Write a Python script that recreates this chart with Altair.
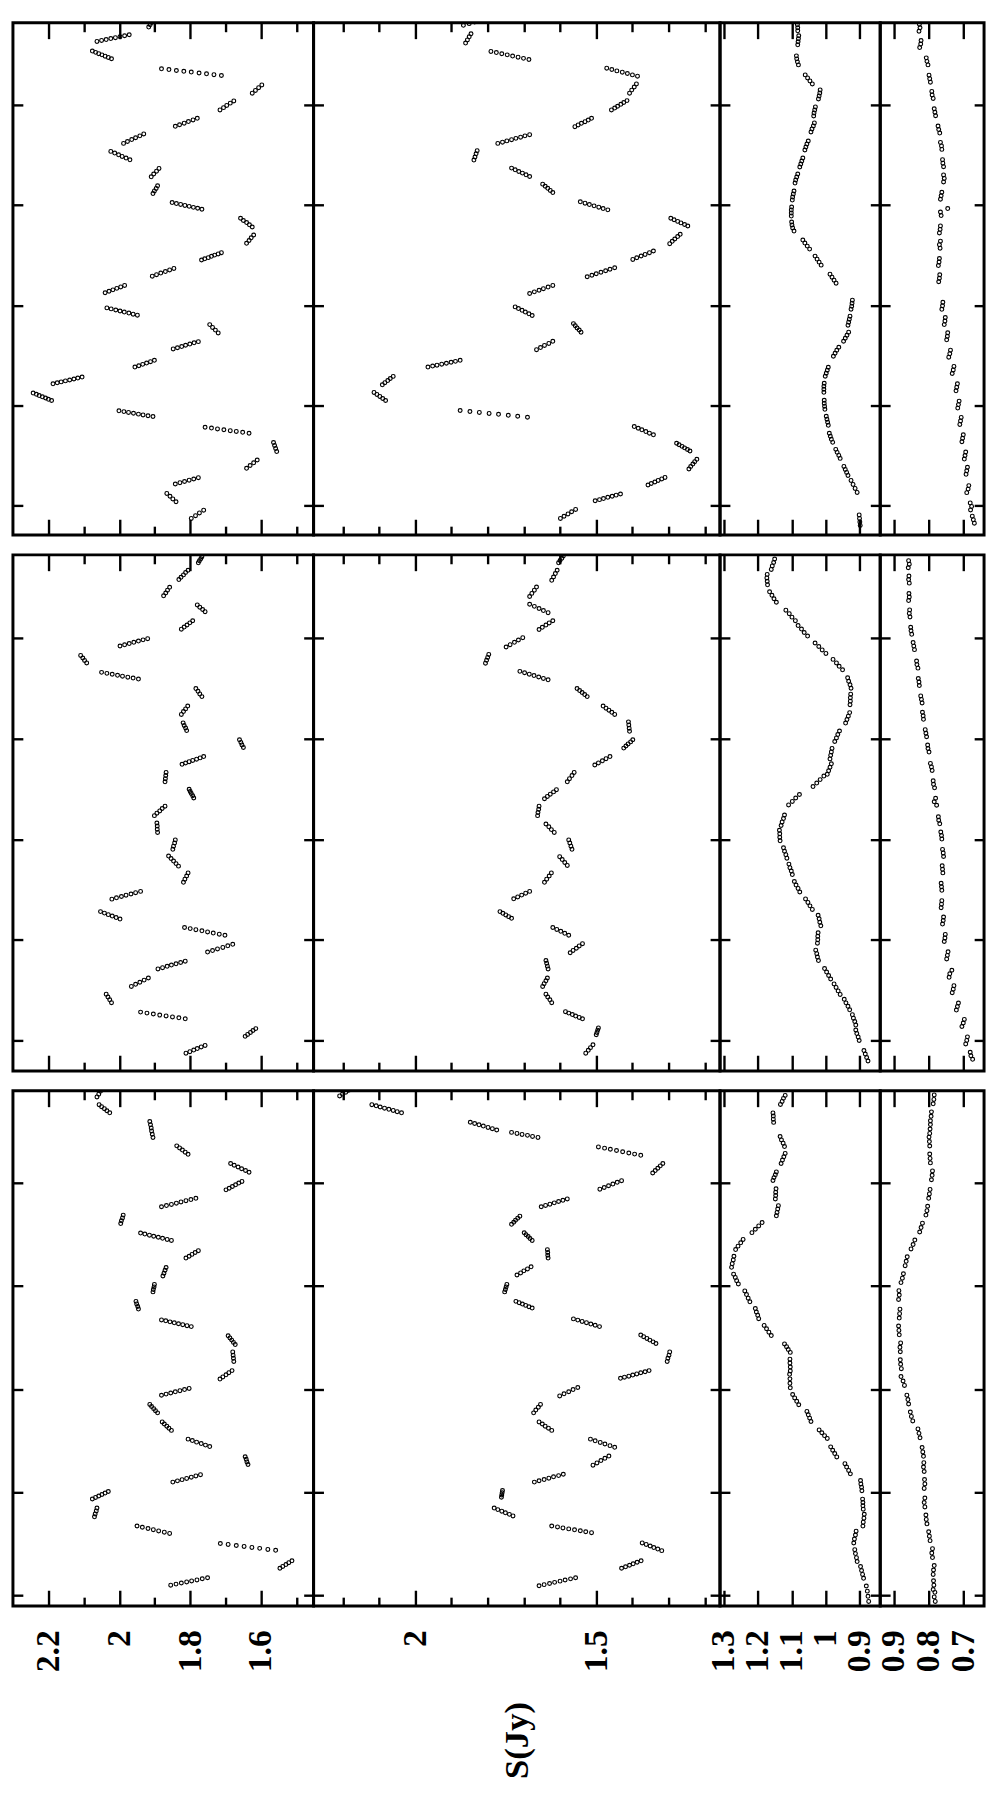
import altair as alt
import pandas as pd

# ---------------- data: each cluster = (times, fluxes) ----------------
# time in days from the first tick of each segment, flux S in Jy

TOP_1 = [
    ([-0.130, -0.102, -0.075, -0.047], [1.797, 1.785, 1.774, 1.762]),
    ([0.037, 0.065, 0.092, 0.120], [1.840, 1.849, 1.857, 1.866]),
    ([0.214, 0.227, 0.239, 0.252, 0.264, 0.277], [1.842, 1.829, 1.816, 1.803, 1.790, 1.777]),
    ([0.371, 0.399, 0.426, 0.454], [1.641, 1.631, 1.621, 1.611]),
    ([0.538, 0.568, 0.598, 0.628], [1.556, 1.559, 1.562, 1.565]),
    ([0.721, 0.730, 0.739, 0.747, 0.756, 0.764, 0.773, 0.781], [1.634, 1.652, 1.670, 1.687, 1.705, 1.723, 1.740, 1.758]),
    ([0.888, 0.896, 0.904, 0.912, 0.921, 0.929, 0.937, 0.945], [1.905, 1.919, 1.933, 1.946, 1.960, 1.974, 1.987, 2.001]),
    ([1.048, 1.060, 1.073, 1.085, 1.097, 1.110, 1.122], [2.191, 2.200, 2.208, 2.217, 2.226, 2.234, 2.243]),
    ([1.215, 1.225, 1.234, 1.244, 1.253, 1.263, 1.272, 1.282], [2.187, 2.175, 2.164, 2.152, 2.140, 2.128, 2.117, 2.105]),
    ([1.382, 1.395, 1.409, 1.422, 1.436, 1.449], [1.956, 1.945, 1.934, 1.923, 1.912, 1.901]),
    ([1.563, 1.575, 1.587, 1.600, 1.612, 1.624, 1.636], [1.848, 1.836, 1.824, 1.813, 1.801, 1.789, 1.777]),
    ([1.723, 1.751, 1.778, 1.806], [1.721, 1.729, 1.737, 1.745]),
    ([1.900, 1.910, 1.921, 1.931, 1.942, 1.952, 1.963, 1.973], [1.949, 1.961, 1.973, 1.986, 1.998, 2.010, 2.023, 2.035]),
    ([2.124, 2.139, 2.153, 2.168, 2.182, 2.197], [2.040, 2.029, 2.018, 2.007, 1.996, 1.985]),
    ([2.290, 2.305, 2.321, 2.336, 2.352, 2.367], [1.907, 1.895, 1.883, 1.870, 1.858, 1.846]),
    ([2.451, 2.463, 2.475, 2.488, 2.500, 2.512, 2.524], [1.768, 1.759, 1.749, 1.740, 1.731, 1.721, 1.712]),
    ([2.618, 2.646, 2.673, 2.701], [1.641, 1.634, 1.628, 1.621]),
    ([2.781, 2.803, 2.825, 2.846, 2.868], [1.625, 1.633, 1.641, 1.650, 1.658]),
    ([2.958, 2.968, 2.977, 2.987, 2.996, 3.006, 3.015, 3.025], [1.767, 1.779, 1.791, 1.803, 1.815, 1.827, 1.839, 1.851]),
    ([3.115, 3.141, 3.166, 3.192], [1.905, 1.901, 1.896, 1.892]),
    ([3.282, 3.310, 3.338, 3.366], [1.910, 1.903, 1.895, 1.888]),
    ([3.452, 3.469, 3.486, 3.502, 3.519, 3.536], [1.970, 1.981, 1.992, 2.002, 2.013, 2.024]),
    ([3.616, 3.635, 3.654, 3.672, 3.691, 3.710], [1.988, 1.977, 1.965, 1.954, 1.942, 1.931]),
    ([3.786, 3.802, 3.818, 3.834, 3.850, 3.866], [1.842, 1.830, 1.817, 1.805, 1.792, 1.780]),
    ([3.950, 3.973, 3.995, 4.018, 4.040], [1.716, 1.706, 1.697, 1.687, 1.677]),
    ([4.117, 4.145, 4.172, 4.200], [1.625, 1.616, 1.607, 1.598]),
    ([4.294, 4.302, 4.311, 4.319, 4.328, 4.336, 4.344, 4.353, 4.361], [1.712, 1.733, 1.754, 1.775, 1.797, 1.818, 1.839, 1.860, 1.881]),
    ([4.461, 4.474, 4.487, 4.500, 4.512, 4.525, 4.538], [2.022, 2.031, 2.040, 2.049, 2.058, 2.067, 2.076]),
    ([4.634, 4.644, 4.653, 4.663, 4.672, 4.682, 4.691, 4.701], [2.063, 2.050, 2.037, 2.024, 2.011, 1.998, 1.985, 1.972]),
    ([4.778, 4.800, 4.823, 4.845], [1.917, 1.913, 1.909, 1.905]),
]

TOP_2 = [
    ([-0.130, -0.108, -0.085, -0.063, -0.040], [1.599, 1.589, 1.578, 1.568, 1.557]),
    ([0.047, 0.058, 0.069, 0.081, 0.092, 0.103, 0.114], [1.503, 1.491, 1.480, 1.468, 1.456, 1.445, 1.433]),
    ([0.204, 0.219, 0.234, 0.250, 0.265, 0.280], [1.357, 1.348, 1.338, 1.329, 1.319, 1.310]),
    ([0.364, 0.388, 0.413, 0.437, 0.461], [1.244, 1.239, 1.233, 1.228, 1.222]),
    ([0.544, 0.559, 0.575, 0.590, 0.606, 0.621], [1.241, 1.248, 1.256, 1.263, 1.271, 1.278]),
    ([0.705, 0.722, 0.738, 0.755, 0.771, 0.788], [1.342, 1.353, 1.363, 1.374, 1.384, 1.395]),
    ([0.881, 0.891, 0.900, 0.910, 0.919, 0.929, 0.938, 0.948], [1.690, 1.717, 1.743, 1.770, 1.796, 1.823, 1.849, 1.876]),
    ([1.048, 1.068, 1.089, 1.109, 1.129], [2.082, 2.090, 2.098, 2.106, 2.114]),
    ([1.205, 1.226, 1.247, 1.268, 1.289], [2.091, 2.084, 2.076, 2.069, 2.061]),
    ([1.382, 1.392, 1.401, 1.411, 1.420, 1.430, 1.439, 1.449], [1.965, 1.952, 1.940, 1.927, 1.914, 1.901, 1.889, 1.876]),
    ([1.556, 1.577, 1.598, 1.618, 1.639], [1.665, 1.654, 1.643, 1.631, 1.620]),
    ([1.730, 1.752, 1.773, 1.795, 1.816], [1.542, 1.547, 1.553, 1.558, 1.563]),
    ([1.897, 1.914, 1.931, 1.949, 1.966, 1.983], [1.677, 1.686, 1.696, 1.705, 1.715, 1.724]),
    ([2.117, 2.133, 2.149, 2.165, 2.181, 2.197], [1.684, 1.671, 1.658, 1.646, 1.633, 1.620]),
    ([2.284, 2.299, 2.314, 2.329, 2.344, 2.359, 2.374], [1.525, 1.512, 1.500, 1.487, 1.474, 1.462, 1.449]),
    ([2.457, 2.474, 2.491, 2.507, 2.524, 2.541], [1.399, 1.388, 1.376, 1.365, 1.353, 1.342]),
    ([2.614, 2.638, 2.661, 2.685, 2.708], [1.297, 1.290, 1.283, 1.275, 1.268]),
    ([2.791, 2.806, 2.822, 2.837, 2.853, 2.868], [1.247, 1.256, 1.266, 1.275, 1.285, 1.294]),
    ([2.952, 2.965, 2.979, 2.992, 3.005, 3.019, 3.032], [1.468, 1.481, 1.493, 1.506, 1.519, 1.531, 1.544]),
    ([3.125, 3.146, 3.167, 3.188, 3.209], [1.620, 1.627, 1.634, 1.641, 1.648]),
    ([3.285, 3.302, 3.319, 3.335, 3.352, 3.369], [1.684, 1.694, 1.704, 1.714, 1.724, 1.734]),
    ([3.449, 3.480, 3.512, 3.543], [1.838, 1.835, 1.832, 1.829]),
    ([3.616, 3.628, 3.641, 3.653, 3.666, 3.678, 3.691, 3.703], [1.772, 1.759, 1.747, 1.734, 1.722, 1.709, 1.697, 1.684]),
    ([3.783, 3.800, 3.816, 3.833, 3.849, 3.866], [1.559, 1.550, 1.541, 1.531, 1.522, 1.513]),
    ([3.950, 3.969, 3.987, 4.006, 4.024, 4.043], [1.458, 1.449, 1.441, 1.432, 1.424, 1.415]),
    ([4.117, 4.148, 4.179, 4.210], [1.408, 1.402, 1.395, 1.389]),
    ([4.287, 4.300, 4.314, 4.327, 4.340, 4.354, 4.367], [1.386, 1.400, 1.414, 1.428, 1.443, 1.457, 1.471]),
    ([4.454, 4.465, 4.477, 4.488, 4.500, 4.511, 4.523, 4.534], [1.686, 1.701, 1.716, 1.731, 1.746, 1.761, 1.776, 1.791]),
    ([4.618, 4.649, 4.680, 4.711], [1.861, 1.856, 1.851, 1.846]),
    ([4.795, 4.812, 4.828, 4.845], [1.867, 1.851, 1.836, 1.820]),
]

TOP_3 = [
    ([-0.200, -0.165, -0.130, -0.095], [0.899, 0.900, 0.901, 0.902]),
    ([0.13, 0.17, 0.21, 0.25], [0.908, 0.914, 0.920, 0.926]),
    ([0.30, 0.33, 0.36, 0.39], [0.935, 0.939, 0.943, 0.947]),
    ([0.47, 0.50, 0.53, 0.56], [0.958, 0.962, 0.967, 0.971]),
    ([0.63, 0.66, 0.69, 0.72], [0.980, 0.984, 0.987, 0.990]),
    ([0.80, 0.83, 0.86, 0.89], [0.993, 0.995, 0.997, 0.999]),
    ([0.96, 0.99, 1.02, 1.05], [1.003, 1.004, 1.005, 1.005]),
    ([1.13, 1.16, 1.19, 1.22], [1.006, 1.006, 1.006, 1.005]),
    ([1.29, 1.32, 1.35, 1.38], [1.002, 0.999, 0.996, 0.993]),
    ([1.49, 1.52, 1.55, 1.58], [0.978, 0.973, 0.968, 0.962]),
    ([1.64, 1.67, 1.70, 1.73], [0.948, 0.943, 0.938, 0.933]),
    ([1.80, 1.83, 1.86, 1.89], [0.935, 0.933, 0.931, 0.929]),
    ([1.96, 1.99, 2.02, 2.05], [0.926, 0.924, 0.923, 0.922]),
    ([2.22, 2.25, 2.28, 2.31], [0.970, 0.976, 0.982, 0.988]),
    ([2.40, 2.43, 2.46, 2.49], [1.014, 1.020, 1.026, 1.032]),
    ([2.56, 2.59, 2.62, 2.65], [1.048, 1.055, 1.062, 1.068]),
    ([2.74, 2.77, 2.80, 2.83], [1.094, 1.098, 1.100, 1.101]),
    ([2.89, 2.92, 2.95, 2.98], [1.102, 1.102, 1.102, 1.101]),
    ([3.05, 3.08, 3.11, 3.14], [1.099, 1.098, 1.096, 1.094]),
    ([3.22, 3.25, 3.28, 3.31], [1.091, 1.089, 1.086, 1.083]),
    ([3.38, 3.41, 3.44, 3.47], [1.077, 1.074, 1.071, 1.068]),
    ([3.55, 3.58, 3.61, 3.64], [1.062, 1.059, 1.056, 1.052]),
    ([3.73, 3.76, 3.79, 3.82], [1.044, 1.041, 1.037, 1.034]),
    ([3.89, 3.92, 3.95, 3.98], [1.036, 1.035, 1.033, 1.031]),
    ([4.06, 4.09, 4.12, 4.15], [1.022, 1.020, 1.018, 1.017]),
    ([4.21, 4.24, 4.27, 4.30], [1.040, 1.047, 1.054, 1.061]),
    ([4.40, 4.43, 4.46, 4.49], [1.081, 1.084, 1.086, 1.087]),
    ([4.60, 4.63, 4.66, 4.69], [1.083, 1.082, 1.081, 1.080]),
    ([4.74, 4.77, 4.80, 4.83], [1.083, 1.083, 1.084, 1.084]),
]

TOP_4 = [
    ([4.736, 4.771, 4.806], [0.828, 0.825, 0.827]),
    ([4.573, 4.608, 4.643], [0.826, 0.823, 0.822]),
    ([4.400, 4.435, 4.470], [0.802, 0.805, 0.807]),
    ([4.227, 4.262, 4.297], [0.795, 0.797, 0.799]),
    ([4.065, 4.100, 4.135], [0.787, 0.790, 0.791]),
    ([3.892, 3.927, 3.962], [0.780, 0.782, 0.784]),
    ([3.719, 3.754, 3.789], [0.768, 0.771, 0.773]),
    ([3.556, 3.591, 3.626], [0.762, 0.763, 0.766]),
    ([3.383, 3.418, 3.453], [0.757, 0.759, 0.760]),
    ([3.231, 3.266, 3.301], [0.757, 0.755, 0.757]),
    ([3.058, 3.093, 3.128], [0.766, 0.764, 0.762]),
    ([2.895, 2.930, 2.965], [0.764, 0.766, 0.745]),
    ([2.722, 2.757, 2.792], [0.769, 0.767, 0.766]),
    ([2.569, 2.604, 2.639], [0.767, 0.769, 0.766]),
    ([2.396, 2.431, 2.466], [0.772, 0.770, 0.769]),
    ([2.234, 2.269, 2.304], [0.771, 0.769, 0.768]),
    ([1.959, 1.994, 2.029], [0.762, 0.760, 0.759]),
    ([1.806, 1.841, 1.876], [0.755, 0.753, 0.752]),
    ([1.654, 1.689, 1.724], [0.748, 0.746, 0.745]),
    ([1.481, 1.516, 1.551], [0.742, 0.739, 0.737]),
    ([1.318, 1.353, 1.388], [0.732, 0.729, 0.727]),
    ([1.145, 1.180, 1.215], [0.721, 0.719, 0.717]),
    ([0.972, 1.007, 1.042], [0.716, 0.714, 0.712]),
    ([0.809, 0.844, 0.879], [0.710, 0.708, 0.706]),
    ([0.636, 0.671, 0.706], [0.704, 0.702, 0.700]),
    ([0.463, 0.498, 0.533], [0.697, 0.695, 0.693]),
    ([0.311, 0.346, 0.381], [0.692, 0.690, 0.688]),
    ([0.128, 0.163, 0.198], [0.690, 0.686, 0.684]),
    ([-0.045, -0.010, 0.025], [0.679, 0.676, 0.680]),
    ([-0.177, -0.142, -0.107], [0.668, 0.671, 0.674]),
]

MID_1 = [
    ([-0.127, -0.112, -0.096, -0.081, -0.065, -0.050], [1.812, 1.801, 1.790, 1.780, 1.769, 1.758]),
    ([0.040, 0.059, 0.079, 0.098, 0.117], [1.645, 1.638, 1.630, 1.623, 1.615]),
    ([0.214, 0.224, 0.233, 0.243, 0.252, 0.262, 0.271, 0.281], [1.814, 1.832, 1.850, 1.868, 1.886, 1.904, 1.922, 1.940]),
    ([0.375, 0.403, 0.431, 0.459], [2.022, 2.027, 2.032, 2.037]),
    ([0.536, 0.557, 0.578, 0.599, 0.620], [1.966, 1.954, 1.942, 1.930, 1.918]),
    ([0.710, 0.723, 0.736, 0.749, 0.761, 0.774, 0.787], [1.891, 1.878, 1.865, 1.853, 1.840, 1.827, 1.814]),
    ([0.878, 0.893, 0.909, 0.924, 0.940, 0.955], [1.751, 1.737, 1.723, 1.708, 1.694, 1.680]),
    ([1.045, 1.056, 1.067, 1.078, 1.089, 1.100, 1.111, 1.122], [1.702, 1.718, 1.735, 1.751, 1.767, 1.784, 1.800, 1.816]),
    ([1.206, 1.221, 1.236, 1.250, 1.265, 1.280], [1.998, 2.009, 2.020, 2.031, 2.042, 2.053]),
    ([1.404, 1.417, 1.430, 1.443, 1.455, 1.468, 1.481], [2.021, 2.008, 1.994, 1.981, 1.967, 1.954, 1.940]),
    ([1.571, 1.602, 1.634, 1.665], [1.819, 1.815, 1.810, 1.806]),
    ([1.732, 1.757, 1.782, 1.807, 1.832], [1.833, 1.840, 1.847, 1.854, 1.861]),
    ([1.899, 1.930, 1.962, 1.993], [1.849, 1.847, 1.844, 1.842]),
    ([2.067, 2.098, 2.130, 2.161], [1.892, 1.893, 1.893, 1.894]),
    ([2.234, 2.258, 2.281, 2.305, 2.328], [1.901, 1.894, 1.886, 1.879, 1.871]),
    ([2.409, 2.431, 2.453, 2.474, 2.496], [1.790, 1.793, 1.797, 1.800, 1.803]),
    ([2.570, 2.601, 2.632, 2.663], [1.871, 1.870, 1.869, 1.868]),
    ([2.744, 2.757, 2.770, 2.783, 2.795, 2.808, 2.821], [1.823, 1.813, 1.803, 1.793, 1.782, 1.772, 1.762]),
    ([2.911, 2.937, 2.962, 2.988], [1.650, 1.654, 1.657, 1.661]),
    ([3.079, 3.105, 3.130, 3.156], [1.810, 1.813, 1.817, 1.820]),
    ([3.240, 3.268, 3.295, 3.323], [1.825, 1.819, 1.813, 1.807]),
    ([3.417, 3.444, 3.470, 3.497], [1.767, 1.773, 1.778, 1.784]),
    ([3.591, 3.601, 3.610, 3.620, 3.629, 3.639, 3.648, 3.658], [1.946, 1.961, 1.976, 1.991, 2.005, 2.020, 2.035, 2.050]),
    ([3.752, 3.777, 3.801, 3.826], [2.092, 2.098, 2.103, 2.109]),
    ([3.920, 3.932, 3.944, 3.957, 3.969, 3.981, 3.993], [1.998, 1.985, 1.972, 1.959, 1.946, 1.933, 1.920]),
    ([4.087, 4.108, 4.129, 4.150, 4.171], [1.825, 1.817, 1.809, 1.801, 1.793]),
    ([4.261, 4.283, 4.306, 4.328], [1.758, 1.765, 1.773, 1.780]),
    ([4.419, 4.447, 4.475, 4.503], [1.875, 1.869, 1.864, 1.858]),
    ([4.580, 4.603, 4.627, 4.650, 4.673], [1.832, 1.826, 1.819, 1.813, 1.806]),
    ([4.747, 4.767, 4.787, 4.807], [1.777, 1.774, 1.770, 1.767]),
]

MID_2 = [
    ([-0.127, -0.099, -0.072, -0.044], [1.529, 1.522, 1.516, 1.509]),
    ([0.057, 0.079, 0.102, 0.124], [1.500, 1.498, 1.496, 1.494]),
    ([0.214, 0.228, 0.242, 0.257, 0.271, 0.285], [1.538, 1.547, 1.557, 1.566, 1.576, 1.585]),
    ([0.375, 0.403, 0.431, 0.459], [1.623, 1.628, 1.634, 1.639]),
    ([0.536, 0.564, 0.592, 0.620], [1.648, 1.644, 1.639, 1.635]),
    ([0.710, 0.738, 0.766, 0.794], [1.633, 1.635, 1.637, 1.639]),
    ([0.871, 0.894, 0.916, 0.939, 0.961], [1.572, 1.564, 1.555, 1.547, 1.538]),
    ([1.045, 1.064, 1.084, 1.103, 1.122], [1.576, 1.587, 1.598, 1.609, 1.620]),
    ([1.213, 1.230, 1.247, 1.263, 1.280], [1.734, 1.742, 1.750, 1.758, 1.766]),
    ([1.407, 1.426, 1.444, 1.463, 1.481], [1.728, 1.717, 1.706, 1.695, 1.684]),
    ([1.571, 1.602, 1.634, 1.665], [1.643, 1.637, 1.630, 1.624]),
    ([1.739, 1.768, 1.797, 1.826], [1.580, 1.587, 1.594, 1.601]),
    ([1.899, 1.930, 1.962, 1.993], [1.567, 1.570, 1.573, 1.576]),
    ([2.067, 2.095, 2.123, 2.151], [1.616, 1.624, 1.631, 1.639]),
    ([2.234, 2.265, 2.297, 2.328], [1.662, 1.661, 1.659, 1.658]),
    ([2.402, 2.425, 2.447, 2.470, 2.492], [1.643, 1.635, 1.627, 1.618, 1.610]),
    ([2.570, 2.601, 2.632, 2.663], [1.580, 1.574, 1.567, 1.561]),
    ([2.737, 2.758, 2.779, 2.800, 2.821], [1.504, 1.494, 1.483, 1.473, 1.462]),
    ([2.905, 2.926, 2.947, 2.967, 2.988], [1.424, 1.418, 1.412, 1.405, 1.399]),
    ([3.072, 3.103, 3.135, 3.166], [1.408, 1.409, 1.410, 1.411]),
    ([3.240, 3.261, 3.282, 3.302, 3.323], [1.449, 1.457, 1.465, 1.473, 1.481]),
    ([3.417, 3.437, 3.457, 3.477, 3.497], [1.525, 1.532, 1.539, 1.546, 1.553]),
    ([3.584, 3.598, 3.612, 3.626, 3.640, 3.654, 3.668], [1.633, 1.646, 1.659, 1.672, 1.685, 1.698, 1.711]),
    ([3.749, 3.778, 3.807, 3.836], [1.806, 1.803, 1.800, 1.797]),
    ([3.910, 3.933, 3.957, 3.980, 4.003], [1.749, 1.738, 1.726, 1.715, 1.703]),
    ([4.084, 4.106, 4.128, 4.149, 4.171], [1.658, 1.649, 1.639, 1.630, 1.620]),
    ([4.251, 4.272, 4.293, 4.314, 4.335], [1.633, 1.646, 1.658, 1.671, 1.684]),
    ([4.412, 4.443, 4.475, 4.506], [1.684, 1.678, 1.671, 1.665]),
    ([4.573, 4.606, 4.640, 4.673], [1.623, 1.618, 1.613, 1.608]),
    ([4.747, 4.769, 4.792, 4.814], [1.604, 1.600, 1.595, 1.591]),
]

MID_3 = [
    ([-0.205, -0.170, -0.136, -0.101], [0.876, 0.880, 0.884, 0.888]),
    ([-0.001, 0.034, 0.068, 0.103], [0.902, 0.905, 0.909, 0.912]),
    ([0.152, 0.187, 0.221, 0.256], [0.912, 0.915, 0.919, 0.922]),
    ([0.304, 0.339, 0.373, 0.408], [0.930, 0.935, 0.941, 0.946]),
    ([0.457, 0.492, 0.526, 0.561], [0.958, 0.964, 0.970, 0.976]),
    ([0.610, 0.645, 0.679, 0.714], [0.986, 0.992, 0.998, 1.004]),
    ([0.793, 0.828, 0.862, 0.897], [1.022, 1.025, 1.027, 1.030]),
    ([0.966, 1.001, 1.035, 1.070], [1.025, 1.024, 1.024, 1.023]),
    ([1.139, 1.174, 1.208, 1.243], [1.015, 1.018, 1.020, 1.023]),
    ([1.302, 1.337, 1.371, 1.406], [1.040, 1.047, 1.053, 1.060]),
    ([1.475, 1.510, 1.544, 1.579], [1.077, 1.082, 1.088, 1.093]),
    ([1.648, 1.683, 1.717, 1.752], [1.099, 1.102, 1.106, 1.109]),
    ([1.811, 1.846, 1.880, 1.915], [1.115, 1.118, 1.122, 1.125]),
    ([1.984, 2.019, 2.053, 2.088], [1.135, 1.136, 1.136, 1.137]),
    ([2.136, 2.171, 2.205, 2.240], [1.132, 1.129, 1.125, 1.122]),
    ([2.340, 2.375, 2.409, 2.444], [1.110, 1.099, 1.089, 1.078]),
    ([2.523, 2.558, 2.592, 2.627], [1.038, 1.027, 1.017, 1.006]),
    ([2.645, 2.680, 2.714, 2.749], [0.996, 0.992, 0.988, 0.984]),
    ([2.798, 2.833, 2.867, 2.902], [0.988, 0.986, 0.984, 0.982]),
    ([2.971, 3.006, 3.040, 3.075], [0.974, 0.969, 0.965, 0.960]),
    ([3.154, 3.189, 3.223, 3.258], [0.942, 0.938, 0.934, 0.930]),
    ([3.337, 3.372, 3.406, 3.441], [0.929, 0.928, 0.928, 0.927]),
    ([3.500, 3.535, 3.569, 3.604], [0.926, 0.929, 0.933, 0.936]),
    ([3.683, 3.718, 3.752, 3.787], [0.951, 0.961, 0.969, 0.979]),
    ([3.846, 3.881, 3.915, 3.950], [1.000, 1.011, 1.021, 1.032]),
    ([4.019, 4.054, 4.088, 4.123], [1.054, 1.064, 1.072, 1.082]),
    ([4.172, 4.207, 4.241, 4.276], [1.090, 1.100, 1.108, 1.118]),
    ([4.355, 4.390, 4.424, 4.459], [1.146, 1.153, 1.159, 1.166]),
    ([4.528, 4.563, 4.597, 4.632], [1.172, 1.173, 1.174, 1.173]),
    ([4.681, 4.716, 4.750, 4.785], [1.161, 1.158, 1.154, 1.151]),
]

MID_4 = [
    ([4.698, 4.733, 4.768], [0.859, 0.856, 0.858]),
    ([4.545, 4.580, 4.615], [0.856, 0.858, 0.857]),
    ([4.372, 4.407, 4.442], [0.858, 0.856, 0.857]),
    ([4.209, 4.244, 4.279], [0.854, 0.856, 0.855]),
    ([4.036, 4.071, 4.106], [0.849, 0.851, 0.852]),
    ([3.884, 3.919, 3.954], [0.841, 0.843, 0.845]),
    ([3.700, 3.735, 3.770], [0.831, 0.834, 0.835]),
    ([3.527, 3.562, 3.597], [0.827, 0.828, 0.830]),
    ([3.354, 3.389, 3.424], [0.819, 0.821, 0.823]),
    ([3.191, 3.226, 3.261], [0.815, 0.816, 0.818]),
    ([3.018, 3.053, 3.088], [0.806, 0.808, 0.810]),
    ([2.866, 2.901, 2.936], [0.799, 0.802, 0.803]),
    ([2.683, 2.718, 2.753], [0.790, 0.792, 0.795]),
    ([2.510, 2.545, 2.580], [0.783, 0.786, 0.787]),
    ([2.337, 2.372, 2.407], [0.777, 0.784, 0.780]),
    ([2.153, 2.188, 2.223], [0.768, 0.771, 0.772]),
    ([2.001, 2.036, 2.071], [0.762, 0.763, 0.765]),
    ([1.828, 1.863, 1.898], [0.757, 0.758, 0.760]),
    ([1.665, 1.700, 1.735], [0.759, 0.760, 0.761]),
    ([1.492, 1.527, 1.562], [0.762, 0.763, 0.764]),
    ([1.319, 1.354, 1.389], [0.764, 0.763, 0.762]),
    ([1.156, 1.191, 1.226], [0.760, 0.758, 0.757]),
    ([0.983, 1.018, 1.053], [0.755, 0.753, 0.752]),
    ([0.810, 0.845, 0.880], [0.748, 0.746, 0.744]),
    ([0.627, 0.662, 0.697], [0.741, 0.739, 0.733]),
    ([0.474, 0.509, 0.544], [0.732, 0.729, 0.727]),
    ([0.301, 0.336, 0.371], [0.720, 0.717, 0.714]),
    ([0.138, 0.173, 0.208], [0.704, 0.700, 0.697]),
    ([-0.035, 0.000, 0.035], [0.693, 0.690, 0.688]),
    ([-0.188, -0.153, -0.118], [0.673, 0.678, 0.680]),
]

BOT_1 = [
    ([0.098, 0.108, 0.119, 0.129, 0.139, 0.149, 0.160, 0.170], [1.855, 1.840, 1.825, 1.810, 1.796, 1.781, 1.766, 1.751]),
    ([0.262, 0.280, 0.298, 0.316, 0.334], [1.547, 1.539, 1.530, 1.522, 1.513]),
    ([0.436, 0.445, 0.455, 0.464, 0.474, 0.483, 0.493, 0.502], [1.559, 1.581, 1.604, 1.626, 1.648, 1.670, 1.693, 1.715]),
    ([0.600, 0.612, 0.624, 0.636, 0.648, 0.660, 0.672], [1.858, 1.873, 1.889, 1.904, 1.919, 1.935, 1.950]),
    ([0.761, 0.789, 0.818, 0.846], [2.070, 2.068, 2.065, 2.063]),
    ([0.934, 0.949, 0.963, 0.978, 0.992, 1.007], [2.076, 2.067, 2.058, 2.049, 2.040, 2.031]),
    ([1.098, 1.110, 1.122, 1.134, 1.146, 1.158, 1.170], [1.849, 1.836, 1.823, 1.810, 1.797, 1.784, 1.771]),
    ([1.269, 1.294, 1.319, 1.344], [1.637, 1.640, 1.642, 1.645]),
    ([1.443, 1.457, 1.472, 1.486, 1.501, 1.515], [1.745, 1.757, 1.769, 1.782, 1.794, 1.806]),
    ([1.600, 1.621, 1.641, 1.662, 1.682], [1.853, 1.860, 1.866, 1.873, 1.879]),
    ([1.770, 1.791, 1.811, 1.832, 1.852], [1.892, 1.898, 1.903, 1.909, 1.914]),
    ([1.941, 1.952, 1.963, 1.974, 1.985, 1.996, 2.007], [1.881, 1.868, 1.855, 1.842, 1.829, 1.816, 1.803]),
    ([2.098, 2.119, 2.139, 2.160, 2.180], [1.716, 1.708, 1.699, 1.691, 1.682]),
    ([2.269, 2.300, 2.330, 2.361], [1.677, 1.678, 1.679, 1.680]),
    ([2.433, 2.454, 2.476, 2.497, 2.518], [1.673, 1.678, 1.683, 1.688, 1.693]),
    ([2.607, 2.616, 2.626, 2.635, 2.644, 2.653, 2.663, 2.672], [1.797, 1.809, 1.821, 1.833, 1.845, 1.857, 1.869, 1.881]),
    ([2.777, 2.802, 2.827, 2.852], [1.946, 1.948, 1.951, 1.953]),
    ([2.944, 2.968, 2.992, 3.016], [1.905, 1.904, 1.902, 1.901]),
    ([3.098, 3.125, 3.153, 3.180], [1.877, 1.874, 1.871, 1.868]),
    ([3.272, 3.290, 3.308, 3.326, 3.344], [1.812, 1.803, 1.795, 1.786, 1.777]),
    ([3.443, 3.453, 3.464, 3.474, 3.484, 3.494, 3.505, 3.515], [1.853, 1.865, 1.878, 1.890, 1.903, 1.915, 1.928, 1.940]),
    ([3.607, 3.634, 3.662, 3.689], [1.996, 1.994, 1.991, 1.989]),
    ([3.770, 3.782, 3.793, 3.805, 3.817, 3.829, 3.840, 3.852], [1.881, 1.867, 1.853, 1.839, 1.826, 1.812, 1.798, 1.784]),
    ([3.934, 3.950, 3.967, 3.983, 4.000, 4.016], [1.699, 1.690, 1.681, 1.672, 1.663, 1.654]),
    ([4.105, 4.122, 4.139, 4.156, 4.173, 4.190], [1.634, 1.644, 1.655, 1.665, 1.676, 1.686]),
    ([4.279, 4.300, 4.320, 4.341, 4.361], [1.806, 1.814, 1.822, 1.830, 1.838]),
    ([4.443, 4.474, 4.505, 4.535, 4.566, 4.597], [1.905, 1.907, 1.909, 1.910, 1.912, 1.914]),
    ([4.682, 4.702, 4.722, 4.741, 4.761], [2.027, 2.035, 2.042, 2.050, 2.057]),
    ([4.836, 4.863, 4.891, 4.918], [2.063, 2.058, 2.053, 2.048]),
]

BOT_2 = [
    ([0.092, 0.103, 0.114, 0.125, 0.137, 0.148, 0.159, 0.170], [1.658, 1.644, 1.629, 1.615, 1.600, 1.586, 1.571, 1.557]),
    ([0.262, 0.276, 0.291, 0.305, 0.320, 0.334], [1.430, 1.419, 1.408, 1.398, 1.387, 1.376]),
    ([0.433, 0.448, 0.463, 0.478, 0.493, 0.508], [1.319, 1.330, 1.341, 1.351, 1.362, 1.373]),
    ([0.607, 0.616, 0.626, 0.635, 0.644, 0.653, 0.663, 0.672], [1.513, 1.529, 1.544, 1.560, 1.576, 1.592, 1.607, 1.623]),
    ([0.770, 0.785, 0.800, 0.816, 0.831, 0.846], [1.730, 1.740, 1.751, 1.761, 1.772, 1.782]),
    ([0.951, 0.973, 0.994, 1.016], [1.762, 1.761, 1.760, 1.759]),
    ([1.098, 1.111, 1.123, 1.136, 1.149, 1.161, 1.174], [1.671, 1.658, 1.644, 1.631, 1.618, 1.604, 1.591]),
    ([1.262, 1.284, 1.307, 1.329, 1.351], [1.509, 1.498, 1.487, 1.476, 1.465]),
    ([1.436, 1.452, 1.468, 1.483, 1.499, 1.515], [1.449, 1.462, 1.476, 1.489, 1.503, 1.516]),
    ([1.600, 1.621, 1.641, 1.662, 1.682], [1.623, 1.632, 1.641, 1.649, 1.658]),
    ([1.770, 1.797, 1.825, 1.852], [1.673, 1.667, 1.660, 1.654]),
    ([1.934, 1.955, 1.975, 1.996, 2.016], [1.601, 1.589, 1.576, 1.564, 1.551]),
    ([2.105, 2.116, 2.126, 2.137, 2.148, 2.159, 2.169, 2.180], [1.433, 1.422, 1.410, 1.399, 1.388, 1.377, 1.365, 1.354]),
    ([2.269, 2.300, 2.330, 2.361], [1.304, 1.302, 1.299, 1.297]),
    ([2.443, 2.459, 2.476, 2.492, 2.509, 2.525], [1.335, 1.343, 1.352, 1.360, 1.369, 1.377]),
    ([2.607, 2.620, 2.632, 2.645, 2.657, 2.670, 2.682], [1.491, 1.503, 1.515, 1.527, 1.539, 1.551, 1.563]),
    ([2.787, 2.800, 2.813, 2.826, 2.839, 2.852], [1.677, 1.686, 1.695, 1.704, 1.713, 1.722]),
    ([2.944, 2.968, 2.992, 3.016], [1.753, 1.751, 1.749, 1.747]),
    ([3.108, 3.128, 3.148, 3.167, 3.187], [1.719, 1.709, 1.700, 1.690, 1.680]),
    ([3.272, 3.299, 3.327, 3.354], [1.633, 1.634, 1.634, 1.635]),
    ([3.443, 3.462, 3.481, 3.499, 3.518], [1.677, 1.683, 1.688, 1.694, 1.699]),
    ([3.600, 3.620, 3.640, 3.659, 3.679], [1.734, 1.728, 1.723, 1.717, 1.711]),
    ([3.770, 3.783, 3.795, 3.808, 3.821, 3.833, 3.846], [1.652, 1.640, 1.628, 1.616, 1.604, 1.592, 1.580]),
    ([3.941, 3.957, 3.974, 3.990, 4.007, 4.023], [1.490, 1.478, 1.466, 1.454, 1.442, 1.430]),
    ([4.098, 4.121, 4.144, 4.167, 4.190], [1.344, 1.337, 1.330, 1.323, 1.316]),
    ([4.269, 4.281, 4.292, 4.304, 4.316, 4.328, 4.339, 4.351], [1.377, 1.394, 1.410, 1.427, 1.444, 1.461, 1.477, 1.494]),
    ([4.443, 4.453, 4.463, 4.472, 4.482, 4.492], [1.661, 1.676, 1.690, 1.705, 1.719, 1.734]),
    ([4.515, 4.528, 4.540, 4.553, 4.565, 4.578, 4.590], [1.775, 1.787, 1.799, 1.812, 1.824, 1.836, 1.848]),
    ([4.682, 4.693, 4.705, 4.716, 4.727, 4.738, 4.750, 4.761], [2.038, 2.050, 2.061, 2.073, 2.085, 2.097, 2.108, 2.120]),
    ([4.846, 4.864, 4.882, 4.900], [2.209, 2.201, 2.192, 2.184]),
]

BOT_3 = [
    ([-0.060, -0.010, 0.040, 0.090], [0.874, 0.876, 0.878, 0.881]),
    ([0.164, 0.202, 0.240, 0.278], [0.889, 0.892, 0.895, 0.898]),
    ([0.327, 0.365, 0.404, 0.442], [0.908, 0.910, 0.913, 0.915]),
    ([0.507, 0.545, 0.584, 0.622], [0.918, 0.916, 0.913, 0.911]),
    ([0.671, 0.709, 0.748, 0.786], [0.891, 0.890, 0.888, 0.887]),
    ([0.835, 0.868, 0.900, 0.933], [0.890, 0.891, 0.891, 0.892]),
    ([1.015, 1.048, 1.080, 1.113], [0.894, 0.895, 0.897, 0.898]),
    ([1.178, 1.211, 1.244, 1.277], [0.928, 0.933, 0.939, 0.944]),
    ([1.342, 1.375, 1.407, 1.440], [0.968, 0.974, 0.980, 0.986]),
    ([1.522, 1.549, 1.577, 1.604], [0.996, 1.004, 1.012, 1.020]),
    ([1.686, 1.719, 1.751, 1.784], [1.044, 1.048, 1.052, 1.056]),
    ([1.849, 1.882, 1.915, 1.948], [1.080, 1.086, 1.092, 1.098]),
    ([2.013, 2.057, 2.100, 2.144], [1.105, 1.106, 1.106, 1.107]),
    ([2.177, 2.215, 2.253, 2.291], [1.105, 1.105, 1.106, 1.106]),
    ([2.357, 2.384, 2.412, 2.439], [1.105, 1.111, 1.116, 1.122]),
    ([2.520, 2.553, 2.586, 2.619], [1.161, 1.168, 1.175, 1.182]),
    ([2.684, 2.717, 2.749, 2.782], [1.198, 1.201, 1.205, 1.208]),
    ([2.848, 2.883, 2.918, 2.953], [1.224, 1.229, 1.234, 1.239]),
    ([3.021, 3.053, 3.084, 3.116], [1.258, 1.263, 1.267, 1.272]),
    ([3.182, 3.218, 3.254, 3.290], [1.278, 1.276, 1.273, 1.271]),
    ([3.355, 3.388, 3.420, 3.453], [1.266, 1.259, 1.251, 1.244]),
    ([3.519, 3.552, 3.584, 3.617], [1.218, 1.208, 1.198, 1.188]),
    ([3.682, 3.715, 3.748, 3.781], [1.146, 1.144, 1.142, 1.140]),
    ([3.846, 3.879, 3.911, 3.944], [1.149, 1.148, 1.148, 1.147]),
    ([4.026, 4.053, 4.081, 4.108], [1.156, 1.153, 1.149, 1.146]),
    ([4.190, 4.223, 4.255, 4.288], [1.132, 1.128, 1.124, 1.120]),
    ([4.354, 4.387, 4.419, 4.452], [1.122, 1.126, 1.131, 1.135]),
    ([4.589, 4.620, 4.650, 4.681], [1.154, 1.155, 1.155, 1.156]),
    ([4.763, 4.792, 4.822, 4.851], [1.134, 1.129, 1.125, 1.120]),
]

BOT_4 = [
    ([-0.060, -0.016, 0.028], [0.781, 0.784, 0.782]),
    ([0.055, 0.098, 0.141], [0.787, 0.785, 0.786]),
    ([0.202, 0.245, 0.288], [0.787, 0.786, 0.784]),
    ([0.366, 0.409, 0.452], [0.789, 0.791, 0.789]),
    ([0.530, 0.573, 0.616], [0.796, 0.798, 0.800]),
    ([0.693, 0.736, 0.779], [0.805, 0.807, 0.808]),
    ([0.857, 0.900, 0.943], [0.811, 0.813, 0.811]),
    ([1.037, 1.080, 1.123], [0.813, 0.811, 0.812]),
    ([1.201, 1.244, 1.287], [0.813, 0.815, 0.814]),
    ([1.348, 1.391, 1.434], [0.815, 0.817, 0.819]),
    ([1.528, 1.571, 1.614], [0.825, 0.828, 0.831]),
    ([1.692, 1.735, 1.778], [0.846, 0.850, 0.853]),
    ([1.856, 1.899, 1.942], [0.858, 0.860, 0.863]),
    ([2.036, 2.079, 2.122], [0.870, 0.874, 0.880]),
    ([2.199, 2.242, 2.285], [0.879, 0.881, 0.882]),
    ([2.363, 2.406, 2.449], [0.882, 0.883, 0.881]),
    ([2.527, 2.570, 2.613], [0.885, 0.886, 0.887]),
    ([2.690, 2.733, 2.776], [0.885, 0.884, 0.883]),
    ([2.870, 2.913, 2.956], [0.887, 0.885, 0.886]),
    ([3.034, 3.077, 3.120], [0.880, 0.876, 0.873]),
    ([3.198, 3.241, 3.284], [0.868, 0.865, 0.862]),
    ([3.361, 3.404, 3.447], [0.851, 0.845, 0.840]),
    ([3.525, 3.568, 3.611], [0.826, 0.822, 0.818]),
    ([3.689, 3.732, 3.775], [0.808, 0.805, 0.803]),
    ([3.852, 3.895, 3.938], [0.800, 0.798, 0.796]),
    ([4.032, 4.075, 4.118], [0.792, 0.790, 0.789]),
    ([4.196, 4.239, 4.282], [0.795, 0.796, 0.797]),
    ([4.360, 4.403, 4.446], [0.797, 0.798, 0.799]),
    ([4.482, 4.525, 4.568], [0.797, 0.796, 0.795]),
    ([4.605, 4.648, 4.691], [0.795, 0.793, 0.792]),
    ([4.769, 4.812, 4.855], [0.787, 0.785, 0.784]),
]

# ---------------- axes: tick values and ranges ----------------
FLUX_DOMAINS = [[1.452, 2.300], [1.158, 2.281], [0.840, 1.312], [0.640, 0.940]]
FLUX_MAJOR = [[1.6, 1.8, 2.0, 2.2], [1.5, 2.0], [0.9, 1.0, 1.1, 1.2, 1.3], [0.7, 0.8, 0.9]]
FLUX_MINOR = [[1.5, 1.7, 1.9, 2.1], [1.2, 1.3, 1.4, 1.6, 1.7, 1.8, 1.9, 2.1, 2.2], [], []]
TIME_DOMAINS = [[-0.296, 4.820], [-0.305, 4.826], [-0.105, 4.895]]
TIME_TICKS = [0, 1, 2, 3, 4]
Y_TITLE = "S(Jy)"

STRIP_W = [304, 411, 162, 105]
ROW_H = [518, 522, 521]

DATA = [[TOP_1, TOP_2, TOP_3, TOP_4],
        [MID_1, MID_2, MID_3, MID_4],
        [BOT_1, BOT_2, BOT_3, BOT_4]]

FONT = "Liberation Serif"


def to_frame(clusters):
    recs = []
    for ts, ss in clusters:
        for t, s in zip(ts, ss):
            recs.append({"t": t, "s": s})
    return pd.DataFrame(recs)


def x_axis(orient, values, size, labels=False, title=None):
    kw = dict(orient=orient, values=values, tickSize=size, offset=-size,
              domain=False, grid=False, tickColor="black", tickWidth=2.4,
              labels=labels, title=title)
    if labels:
        kw.update(format="~g", labelAngle=270, labelAlign="right",
                  labelBaseline="middle", labelFont=FONT, labelFontSize=34,
                  labelFontWeight="bold", labelColor="black", labelPadding=24,
                  labelOverlap=False, labelFlush=False)
    if title:
        kw.update(titleAngle=270, titleAlign="right", titleBaseline="middle",
                  titleFont=FONT, titleFontSize=35, titleFontWeight="bold",
                  titleColor="black", titlePadding=30)
    return alt.Axis(**kw)


def y_axis(orient):
    return alt.Axis(orient=orient, values=TIME_TICKS, tickSize=10, offset=-10,
                    domain=False, grid=False, labels=False, tickColor="black",
                    tickWidth=2.4, title=None)


def panel(df, c, r, last_row, title):
    xs = alt.Scale(domain=FLUX_DOMAINS[c], reverse=True, nice=False, zero=False)
    ys = alt.Scale(domain=TIME_DOMAINS[r], nice=False, zero=False)
    helper = pd.DataFrame({"s": FLUX_DOMAINS[c], "t": TIME_DOMAINS[r]})
    pts = alt.Chart(df).mark_point(
        shape="circle", filled=False, size=15, strokeWidth=1.15,
        color="black", opacity=1, clip=True
    ).encode(
        x=alt.X("s:Q", scale=xs, axis=x_axis("bottom", FLUX_MAJOR[c], 16, last_row, title)),
        y=alt.Y("t:Q", scale=ys, axis=y_axis("left")),
    )
    layers = [pts]
    layers.append(alt.Chart(helper).mark_point(opacity=0).encode(
        x=alt.X("s:Q", scale=xs, axis=x_axis("top", FLUX_MAJOR[c], 16)),
        y=alt.Y("t:Q", scale=ys, axis=y_axis("right")),
    ))
    if FLUX_MINOR[c]:
        layers.append(alt.Chart(helper).mark_point(opacity=0).encode(
            x=alt.X("s:Q", scale=xs, axis=x_axis("bottom", FLUX_MINOR[c], 9)),
            y=alt.Y("t:Q", scale=ys, axis=None),
        ))
        layers.append(alt.Chart(helper).mark_point(opacity=0).encode(
            x=alt.X("s:Q", scale=xs, axis=x_axis("top", FLUX_MINOR[c], 9)),
            y=alt.Y("t:Q", scale=ys, axis=None),
        ))
    return alt.layer(*layers).resolve_scale(x="shared", y="shared").resolve_axis(
        x="independent", y="independent"
    ).properties(width=STRIP_W[c], height=ROW_H[r])


cells = []
for r in range(3):
    for c in range(4):
        last = r == 2
        title = Y_TITLE if (last and c == 1) else None
        cells.append(panel(to_frame(DATA[r][c]), c, r, last, title))

chart = alt.concat(*cells, columns=4, spacing={"row": 20, "column": 0},
                   bounds="flush").properties(
    padding={"left": 0, "top": 0, "right": 0, "bottom": 0},
    background="white",
).configure_view(stroke="black", strokeWidth=3)

chart.save("out.html", embed_options={"renderer": "svg", "actions": False})
